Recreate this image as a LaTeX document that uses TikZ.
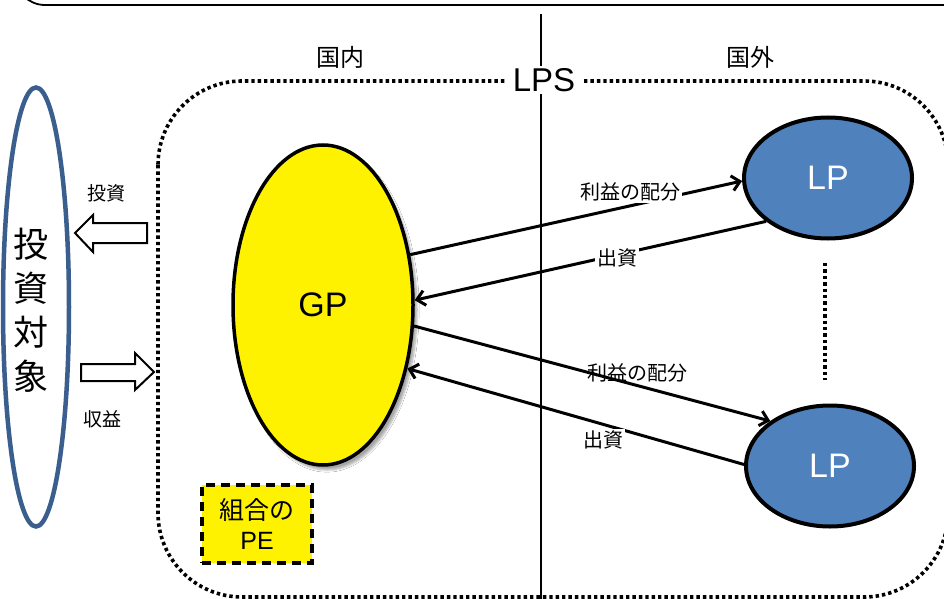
\documentclass[tikz,border=0pt]{standalone}
\usepackage{fontspec}
\setmainfont{Liberation Sans}
\newfontfamily\jp{Noto Sans CJK JP}
\usetikzlibrary{shapes.geometric,arrows.meta,shadows.blur}
\definecolor{lpblue}{HTML}{4F81BD}
\definecolor{edgeblue}{HTML}{3A5F8F}
\tikzset{
  lpnode/.style={ellipse,draw=black,line width=4pt,fill=lpblue,text=white,
    minimum width=168pt,minimum height=121pt,inner sep=0pt,
    font=\fontsize{34}{36}\selectfont},
  gpnode/.style={ellipse,draw=black,line width=3.5pt,fill=yellow,
    minimum width=180pt,minimum height=320pt,inner sep=0pt,
    font=\fontsize{34}{36}\selectfont,
    blur shadow={shadow xshift=4pt,shadow yshift=-5pt,shadow opacity=35,shadow blur steps=8}},
  flow/.style={line width=3pt,-{Straight Barb[length=8pt,width=15pt]}},
  flowlbl/.style={fill=white,inner sep=2pt,font=\jp\fontsize{20}{22}\selectfont},
  sidelbl/.style={inner sep=0pt,font=\jp\fontsize{19}{21}\selectfont},
  hollow/.style={draw=black,line width=2pt,fill=white,line join=miter},
  dots/.style={line width=3.6pt,dash pattern=on 3.4pt off 3pt},
}
\begin{document}
\begin{tikzpicture}[x=1pt,y=-1pt]
\useasboundingbox (0,0) rectangle (944,599);
\clip (0,0) rectangle (944,599);
\fill[white] (0,0) rectangle (944,599);

% frame above
\draw[line width=1.8pt,rounded corners=30pt] (15,-100) rectangle (1000,5);

% border between domestic and foreign
\draw[line width=1.4pt] (541,14) -- (541,605);
\node[font=\jp\fontsize{24}{26}\selectfont] (dom) at (340,57) {国内};
\node[font=\jp\fontsize{24}{26}\selectfont] (frn) at (750,57) {国外};

% LPS partnership boundary
\draw[dots,rounded corners=84pt] (158,81) rectangle (948,597);
\node[fill=white,inner xsep=8pt,inner ysep=2pt,font=\fontsize{33}{35}\selectfont] (lps) at (544,80) {LPS};

% investment target
\node[ellipse,draw=edgeblue,line width=4.5pt,minimum width=66pt,minimum height=439pt,inner sep=0pt] (tgt) at (36,307) {};
\node[font=\jp\fontsize{35}{44}\selectfont,align=center] (tgtlbl) at (31,310) {投\\資\\対\\象};

% hollow block arrows
\draw[hollow] (147,223) -- (93,223) -- (93,215) -- (75,233) -- (93,252) -- (93,243) -- (147,243) -- cycle;
\draw[hollow] (81,364) -- (135,364) -- (135,353) -- (154,372) -- (135,390) -- (135,381) -- (81,381) -- cycle;
\node[sidelbl] (inv) at (106,193) {投資};
\node[sidelbl] (ret) at (102,419) {収益};

% partners
\node[gpnode] (gp) at (323,305) {GP};
\node[lpnode] (lp1) at (828,178) {LP};
\node[lpnode] (lp2) at (830,466) {LP};

% more limited partners
\draw[dots] (825,263) -- (825,380);

% flows between GP and LPs
\draw[flow] (gp.30) -- (lp1.182);
\draw[flow] (lp1.215) -- (gp.3);
\draw[flow] (gp.-13) -- (lp2.143);
\draw[flow] (lp2.179) -- (gp.-37);
\node[flowlbl] (d1) at (630,192) {利益の配分};
\node[flowlbl] (c1) at (617,258) {出資};
\node[flowlbl,fill=none] (d2) at (637,373) {利益の配分};
\node[flowlbl] (c2) at (603,440) {出資};

% partnership PE
\node[draw=black,line width=3.5pt,dash pattern=on 9pt off 6pt,fill=yellow,
  minimum width=110pt,minimum height=78pt,align=center,
  font=\jp\fontsize{25}{30}\selectfont] (pe) at (257,524) {組合の\\{\fontspec{Liberation Sans}PE}};
\end{tikzpicture}
\end{document}
